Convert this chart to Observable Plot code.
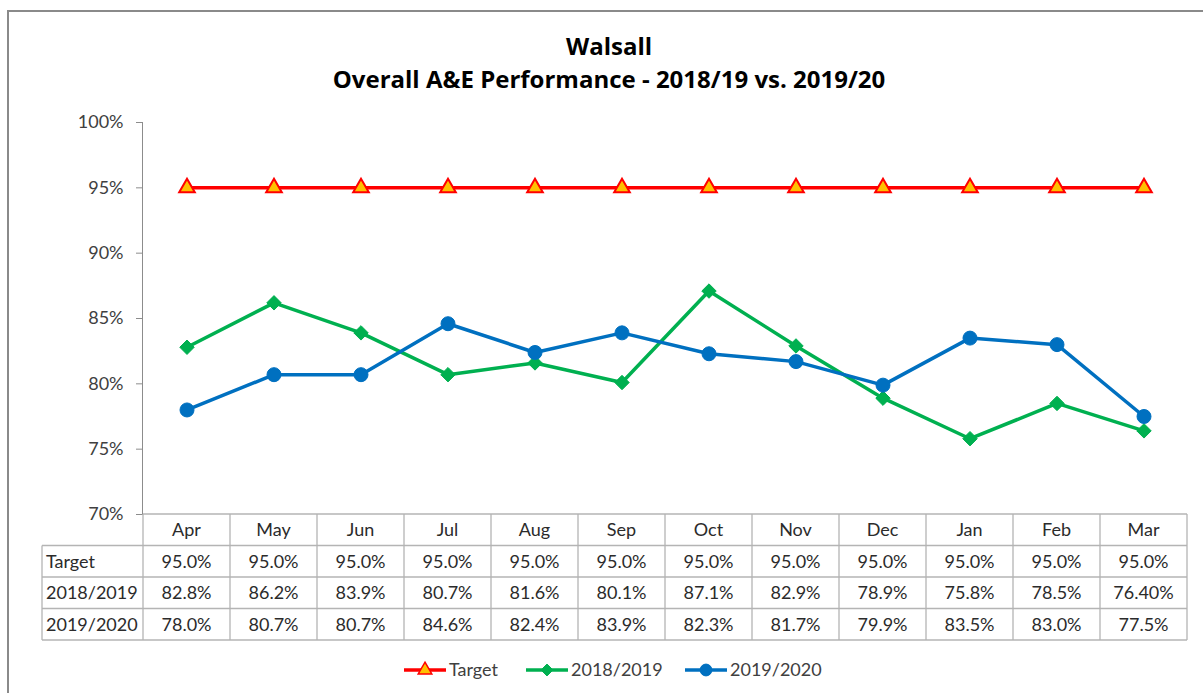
<!DOCTYPE html>
<html><head><meta charset="utf-8">
<script src="https://cdn.jsdelivr.net/npm/d3@7"></script>
<script src="https://cdn.jsdelivr.net/npm/@observablehq/plot@0.6"></script>
<style>
body{margin:0;background:#fff}
#chart svg{font-family:Lato, "Open Sans", sans-serif}
</style>
</head><body><div id="chart"></div>
<script>
const months = ["Apr","May","Jun","Jul","Aug","Sep","Oct","Nov","Dec","Jan","Feb","Mar"];
const target = [0.95,0.95,0.95,0.95,0.95,0.95,0.95,0.95,0.95,0.95,0.95,0.95];
const fy1819 = [0.828,0.862,0.839,0.807,0.816,0.801,0.871,0.829,0.789,0.758,0.785,0.764];
const fy1920 = [0.780,0.807,0.807,0.846,0.824,0.839,0.823,0.817,0.799,0.835,0.830,0.775];
const targetLabels = ["95.0%","95.0%","95.0%","95.0%","95.0%","95.0%","95.0%","95.0%","95.0%","95.0%","95.0%","95.0%"];
const labels1819 = ["82.8%","86.2%","83.9%","80.7%","81.6%","80.1%","87.1%","82.9%","78.9%","75.8%","78.5%","76.40%"];
const labels1920 = ["78.0%","80.7%","80.7%","84.6%","82.4%","83.9%","82.3%","81.7%","79.9%","83.5%","83.0%","77.5%"];
const seriesNames = ["Target","2018/2019","2019/2020"];
const yTicks = [0.70,0.75,0.80,0.85,0.90,0.95,1.00];
const titleLines = ["Walsall","Overall A&E Performance - 2018/19 vs. 2019/20"];

const colors = {"Target":"#ff0000","2018/2019":"#00b050","2019/2020":"#0070c0"};
const seriesValues = [target, fy1819, fy1920];
const seriesLabels = [targetLabels, labels1819, labels1920];
const data = seriesNames.map((s, k) => months.map((m, i) => ({month: m, series: s, value: seriesValues[k][i]})));

const plot = Plot.plot({
  width: 1203, height: 693,
  marginLeft: 142, marginRight: 15, marginTop: 122, marginBottom: 179,
  style: {fontFamily: "Lato, 'Open Sans', sans-serif", fontSize: "18px", color: "#404040", background: "#fff", overflow: "visible"},
  x: {domain: months, type: "band", padding: 0, axis: null},
  y: {domain: [0.7, 1]},
  marks: [
    Plot.axisY({ticks: yTicks, tickFormat: d => Math.round(d * 100) + "%", tickSize: 6, tickPadding: 13, stroke: "#8c8c8c", fill: "#404040", label: null, fontSize: 18}),
    Plot.frame({anchor: "left", stroke: "#8c8c8c"}),
    Plot.lineY(data[0], {x: "month", y: "value", stroke: colors["Target"], strokeWidth: 3.5}),
    Plot.lineY(data[1], {x: "month", y: "value", stroke: colors["2018/2019"], strokeWidth: 3.5}),
    Plot.lineY(data[2], {x: "month", y: "value", stroke: colors["2019/2020"], strokeWidth: 3.5}),
    Plot.dot(data[0], {x: "month", y: "value", symbol: "triangle", r: 5.8, fill: "#ffc000", stroke: "#ff0000", strokeWidth: 2}),
    Plot.dot(data[1], {x: "month", y: "value", symbol: "diamond2", r: 6.5, fill: colors["2018/2019"], stroke: colors["2018/2019"], strokeWidth: 1}),
    Plot.dot(data[2], {x: "month", y: "value", symbol: "circle", r: 7, fill: colors["2019/2020"], stroke: colors["2019/2020"], strokeWidth: 1})
  ]
});

document.getElementById("chart").appendChild(plot);

const svg = d3.select(plot);
const xs = plot.scale("x");
const bw = xs.bandwidth;
const x0 = xs.apply(months[0]);
const x1 = xs.apply(months[months.length - 1]) + bw;
const yScale = plot.scale("y");
const tableTop = yScale.apply(0.7);
const rowH = 31.5;
const labelLeft = 42;
const gridColor = "#b4b4b4";
const textColor = "#2b2b2b";

// border
svg.append("rect").attr("x", 8).attr("y", 11).attr("width", 1300).attr("height", 800)
  .attr("fill", "none").attr("stroke", "#8a8a8a").attr("stroke-width", 2);

// title
const tg = svg.append("g").attr("font-family", "'Open Sans', Lato, sans-serif").attr("font-weight", "bold")
  .attr("font-size", 24).attr("fill", "#000").attr("text-anchor", "middle");
titleLines.forEach((t, i) => tg.append("text").attr("x", 609).attr("y", 55 + i * 33).text(t));

// table grid
const grid = svg.append("g").attr("stroke", gridColor).attr("stroke-width", 1.3).attr("fill", "none");
grid.append("line").attr("x1", x0).attr("x2", x1).attr("y1", tableTop).attr("y2", tableTop);
for (let r = 1; r <= 4; r++) {
  grid.append("line").attr("x1", labelLeft).attr("x2", x1).attr("y1", tableTop + r * rowH).attr("y2", tableTop + r * rowH);
}
grid.append("line").attr("x1", labelLeft).attr("x2", labelLeft).attr("y1", tableTop + rowH).attr("y2", tableTop + 4 * rowH);
months.forEach(m => {
  const xl = xs.apply(m);
  grid.append("line").attr("x1", xl).attr("x2", xl).attr("y1", tableTop).attr("y2", tableTop + 4 * rowH);
});
grid.append("line").attr("x1", x1).attr("x2", x1).attr("y1", tableTop).attr("y2", tableTop + 4 * rowH);

// table text
const tt = svg.append("g").attr("font-size", 18).attr("fill", textColor);
months.forEach(m => {
  tt.append("text").attr("x", xs.apply(m) + bw / 2).attr("y", tableTop + rowH / 2).attr("dy", "0.35em")
    .attr("text-anchor", "middle").text(m);
});
seriesNames.forEach((s, k) => {
  const cy = tableTop + (k + 1.5) * rowH;
  tt.append("text").attr("x", labelLeft + 4).attr("y", cy).attr("dy", "0.35em").attr("text-anchor", "start").text(s);
  months.forEach((m, i) => {
    tt.append("text").attr("x", xs.apply(m) + bw / 2).attr("y", cy).attr("dy", "0.35em")
      .attr("text-anchor", "middle").text(seriesLabels[k][i]);
  });
});

// legend
const legendY = 670;
const legendItems = [
  {name: "Target", x: 404, sym: d3.symbolTriangle, size: 80, fill: "#ffc000", stroke: "#ff0000"},
  {name: "2018/2019", x: 526, sym: d3.symbolDiamond2, size: 90, fill: colors["2018/2019"], stroke: colors["2018/2019"]},
  {name: "2019/2020", x: 685, sym: d3.symbolCircle, size: 110, fill: colors["2019/2020"], stroke: colors["2019/2020"]}
];
const lg = svg.append("g");
legendItems.forEach(it => {
  lg.append("line").attr("x1", it.x).attr("x2", it.x + 42).attr("y1", legendY).attr("y2", legendY)
    .attr("stroke", colors[it.name]).attr("stroke-width", 3.5);
  lg.append("path").attr("d", d3.symbol(it.sym, it.size)()).attr("transform", `translate(${it.x + 21},${legendY})`)
    .attr("fill", it.fill).attr("stroke", it.stroke).attr("stroke-width", it.name === "Target" ? 1.5 : 1);
  lg.append("text").attr("x", it.x + 45).attr("y", legendY).attr("dy", "0.35em").attr("font-size", 18)
    .attr("text-anchor", "start").attr("fill", "#404040").text(it.name);
});
</script>
</body></html>
